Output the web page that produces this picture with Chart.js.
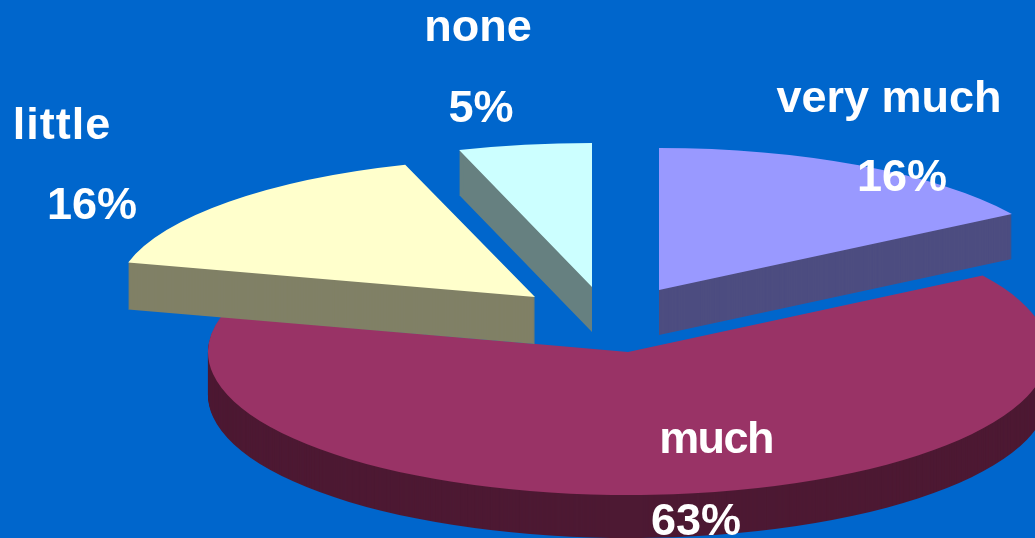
<!DOCTYPE html>
<html>
<head>
<meta charset="utf-8">
<style>
  html, body { margin: 0; padding: 0; background: #0066cc; overflow: hidden; }
  #wrap { width: 1035px; height: 538px; }
</style>
<script src="https://cdn.jsdelivr.net/npm/chart.js@4/dist/chart.umd.min.js"></script>
</head>
<body>
<div id="wrap"><canvas id="pie"></canvas></div>
<script>
const categories = ['very much', 'much', 'little', 'none'];
const percents = [16, 63, 16, 5];
const topColors = ['#9999ff', '#993366', '#ffffcc', '#ccffff'];
const sideColors = ['#4d4d80', '#4d1933', '#808066', '#668080'];

// where each exploded slice sits on the page, with the tilt of the pie
const sliceCentres = [[659, 290], [628, 352], [535, 297], [592, 287]];
const sliceRadiiX = [418, 420, 420, 430];
const sliceRadiiY = [142, 143, 139, 144];
const sliceDepths = [45, 43, 47, 45];
const drawOrder = [1, 0, 2, 3];

const labelBoxes = [
  { name: [889, 97], pct: [902, 176], spacing: 0 },
  { name: [716, 438], pct: [696, 520], spacing: -1.6 },
  { name: [62, 124], pct: [92, 204], spacing: 1 },
  { name: [478, 26], pct: [481, 107], spacing: 0 }
];

function drawTilted(ctx, arc, i, yShift, colour) {
  const opts = arc.options;
  arc.options = Object.assign(Object.create(opts), { backgroundColor: colour, borderWidth: 0 });
  const k = arc.outerRadius;
  ctx.save();
  ctx.translate(sliceCentres[i][0], sliceCentres[i][1] + yShift);
  ctx.scale(sliceRadiiX[i] / k, sliceRadiiY[i] / k);
  ctx.translate(-arc.x, -arc.y);
  arc.draw(ctx);
  ctx.restore();
  arc.options = opts;
}

const tiltedPie = {
  id: 'tiltedPie',
  beforeDatasetDraw(chart) {
    const ctx = chart.ctx;
    const arcs = chart.getDatasetMeta(0).data;
    drawOrder.forEach(i => {
      for (let d = sliceDepths[i]; d > 0; d--) drawTilted(ctx, arcs[i], i, d, sideColors[i]);
      drawTilted(ctx, arcs[i], i, 0, topColors[i]);
    });
    return false;
  },
  afterDatasetsDraw(chart) {
    const ctx = chart.ctx;
    ctx.save();
    ctx.fillStyle = '#ffffff';
    ctx.font = 'bold 45px "Liberation Sans", Arial, sans-serif';
    ctx.textAlign = 'center';
    ctx.textBaseline = 'middle';
    categories.forEach((c, i) => {
      const box = labelBoxes[i];
      ctx.letterSpacing = box.spacing + 'px';
      ctx.fillText(c, box.name[0], box.name[1] + 3);
      ctx.letterSpacing = '0px';
      ctx.fillText(percents[i] + '%', box.pct[0], box.pct[1] + 3);
    });
    ctx.restore();
  }
};

new Chart(document.getElementById('pie'), {
  type: 'pie',
  data: {
    labels: categories,
    datasets: [{ data: percents, backgroundColor: topColors, borderWidth: 0 }]
  },
  options: {
    responsive: true,
    maintainAspectRatio: false,
    animation: false,
    plugins: { legend: { display: false }, tooltip: { enabled: false } }
  },
  plugins: [tiltedPie]
});
</script>
</body>
</html>
